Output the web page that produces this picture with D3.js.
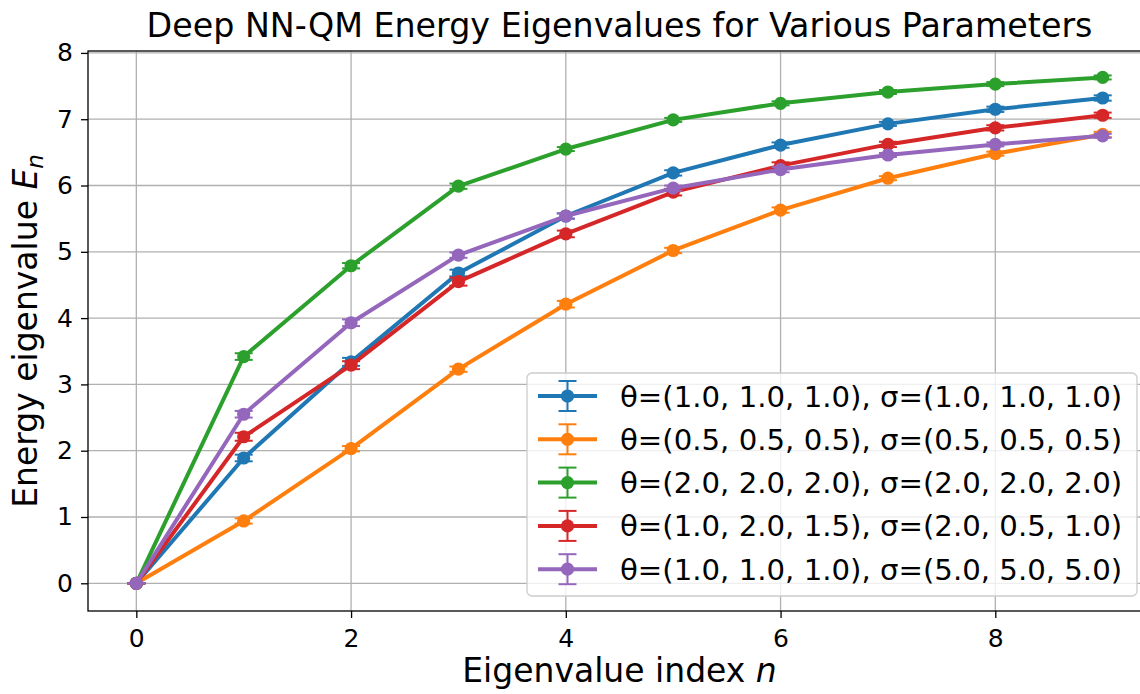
<!DOCTYPE html>
<html>
<head>
<meta charset="utf-8">
<script src="https://cdn.jsdelivr.net/npm/d3@7"></script>
<style>
  html, body { margin: 0; padding: 0; background: #fff; }
  svg { display: block; font-family: "DejaVu Sans", sans-serif; }
</style>
</head>
<body>
<svg id="chart" width="1140" height="694"></svg>
<script>
// ---------------- data ----------------
const indices = [0, 1, 2, 3, 4, 5, 6, 7, 8, 9];
const seriesLabels = [
  "θ=(1.0, 1.0, 1.0), σ=(1.0, 1.0, 1.0)",
  "θ=(0.5, 0.5, 0.5), σ=(0.5, 0.5, 0.5)",
  "θ=(2.0, 2.0, 2.0), σ=(2.0, 2.0, 2.0)",
  "θ=(1.0, 2.0, 1.5), σ=(2.0, 0.5, 1.0)",
  "θ=(1.0, 1.0, 1.0), σ=(5.0, 5.0, 5.0)"
];
const energiesA = [0, 1.89, 3.34, 4.68, 5.54, 6.19, 6.61, 6.93, 7.15, 7.32];
const energiesB = [0, 0.94, 2.03, 3.23, 4.21, 5.02, 5.63, 6.11, 6.48, 6.77];
const energiesC = [0, 3.42, 4.79, 5.99, 6.55, 6.99, 7.24, 7.41, 7.53, 7.63];
const energiesD = [0, 2.21, 3.29, 4.55, 5.27, 5.90, 6.30, 6.62, 6.87, 7.06];
const energiesE = [0, 2.55, 3.93, 4.95, 5.54, 5.96, 6.24, 6.46, 6.62, 6.75];
const errorsA = [0, 0.05, 0.06, 0.05, 0.04, 0.04, 0.04, 0.03, 0.04, 0.04];
const errorsB = [0, 0.04, 0.04, 0.04, 0.05, 0.04, 0.04, 0.03, 0.03, 0.04];
const errorsC = [0, 0.05, 0.04, 0.04, 0.03, 0.03, 0.03, 0.03, 0.03, 0.03];
const errorsD = [0, 0.06, 0.06, 0.06, 0.05, 0.05, 0.05, 0.04, 0.04, 0.04];
const errorsE = [0, 0.05, 0.05, 0.04, 0.04, 0.04, 0.04, 0.03, 0.03, 0.03];
const colors = ["#1f77b4", "#ff7f0e", "#2ca02c", "#d62728", "#9467bd"];
const xTicks = [0, 2, 4, 6, 8];
const yTicks = [0, 1, 2, 3, 4, 5, 6, 7, 8];
const titleText = "Deep NN-QM Energy Eigenvalues for Various Parameters";

const seriesValues = [energiesA, energiesB, energiesC, energiesD, energiesE];
const seriesErrors = [errorsA, errorsB, errorsC, errorsD, errorsE];
const series = seriesLabels.map((label, i) => ({
  label, color: colors[i],
  points: indices.map((n, j) => ({ n, e: seriesValues[i][j], err: seriesErrors[i][j] }))
}));

// ---------------- layout ----------------
(function draw() {
const svg = d3.select("#chart");
const pL = 88, pR = 1151, pT = 51, pB = 611;
const x = d3.scaleLinear().domain([-0.45, 9.45]).range([pL, pR]);
const y = d3.scaleLinear().domain([-0.418, 8.029]).range([pB, pT]);

// grid
const grid = svg.append("g");
grid.selectAll("line.gx").data(xTicks).join("line").attr("class", "gx")
  .attr("x1", d => x(d)).attr("x2", d => x(d)).attr("y1", pT).attr("y2", pB)
  .attr("stroke", "#b0b0b0").attr("stroke-width", 1.3);
grid.selectAll("line.gy").data(yTicks).join("line").attr("class", "gy")
  .attr("y1", d => y(d)).attr("y2", d => y(d)).attr("x1", pL).attr("x2", pR)
  .attr("stroke", "#b0b0b0").attr("stroke-width", 1.3);

// axes
const xAxis = d3.axisBottom(x).tickValues(xTicks).tickSize(7).tickPadding(11).tickFormat(d3.format("d"));
const yAxis = d3.axisLeft(y).tickValues(yTicks).tickSize(7).tickPadding(8).tickFormat(d3.format("d"));
const gx = svg.append("g").attr("transform", `translate(0,${pB})`).call(xAxis);
const gy = svg.append("g").attr("transform", `translate(${pL},0)`).call(yAxis);
[gx, gy].forEach(g => {
  g.select(".domain").remove();
  g.selectAll(".tick line").attr("stroke", "#000").attr("stroke-width", 1.3);
  g.selectAll(".tick text").attr("fill", "#000").style("font-size", "25px")
    .style("font-family", "DejaVu Sans, sans-serif");
});

// spines
svg.append("rect").attr("x", pL).attr("y", pT).attr("width", pR - pL).attr("height", pB - pT)
  .attr("fill", "none").attr("stroke", "#000").attr("stroke-width", 1.3);

// series
const line = d3.line().x(d => x(d.n)).y(d => y(d.e));
const capW = 9;
series.forEach(s => {
  const g = svg.append("g");
  g.append("path").datum(s.points).attr("d", line)
    .attr("fill", "none").attr("stroke", s.color).attr("stroke-width", 4)
    .attr("stroke-linejoin", "round");
  const eb = g.selectAll("g.eb").data(s.points).join("g").attr("class", "eb");
  eb.append("line").attr("x1", d => x(d.n)).attr("x2", d => x(d.n))
    .attr("y1", d => y(d.e - d.err)).attr("y2", d => y(d.e + d.err))
    .attr("stroke", s.color).attr("stroke-width", 2);
  [-1, 1].forEach(sg => {
    eb.append("line").attr("x1", d => x(d.n) - capW).attr("x2", d => x(d.n) + capW)
      .attr("y1", d => y(d.e + sg * d.err)).attr("y2", d => y(d.e + sg * d.err))
      .attr("stroke", s.color).attr("stroke-width", 2);
  });
  g.selectAll("circle").data(s.points).join("circle")
    .attr("cx", d => x(d.n)).attr("cy", d => y(d.e)).attr("r", 6.6)
    .attr("fill", s.color);
});

// title & labels
svg.append("text").attr("x", (pL + pR) / 2).attr("y", 37)
  .attr("text-anchor", "middle").style("font-size", "33.3px").text(titleText);
const xl = svg.append("text").attr("x", (pL + pR) / 2).attr("y", 682)
  .attr("text-anchor", "middle").style("font-size", "33px");
xl.append("tspan").text("Eigenvalue index ");
xl.append("tspan").style("font-style", "italic").text("n");
const yl = svg.append("text").attr("transform", `translate(37,${(pT + pB) / 2}) rotate(-90)`)
  .attr("text-anchor", "middle").style("font-size", "33px");
yl.append("tspan").text("Energy eigenvalue ");
yl.append("tspan").style("font-style", "italic").text("E");
yl.append("tspan").style("font-style", "italic").style("font-size", "23px").attr("dy", 6).text("n");

// legend
const lg = svg.append("g");
lg.append("rect").attr("x", 527).attr("y", 373).attr("width", 610).attr("height", 223)
  .attr("rx", 5).attr("fill", "#fff").attr("fill-opacity", 0.8)
  .attr("stroke", "#cccccc").attr("stroke-width", 1.3);
const rowY0 = 396, rowStep = 43.3;
series.forEach((s, i) => {
  const cy = rowY0 + i * rowStep;
  const r = lg.append("g");
  r.append("line").attr("x1", 538).attr("x2", 597).attr("y1", cy).attr("y2", cy)
    .attr("stroke", s.color).attr("stroke-width", 4);
  r.append("line").attr("x1", 567.5).attr("x2", 567.5).attr("y1", cy - 15).attr("y2", cy + 15)
    .attr("stroke", s.color).attr("stroke-width", 2);
  [-15, 15].forEach(o => r.append("line").attr("x1", 567.5 - capW).attr("x2", 567.5 + capW)
    .attr("y1", cy + o).attr("y2", cy + o).attr("stroke", s.color).attr("stroke-width", 2));
  r.append("circle").attr("cx", 567.5).attr("cy", cy).attr("r", 6.6).attr("fill", s.color);
  r.append("text").attr("x", 620).attr("y", cy + 10.5).style("font-size", "29.2px").text(s.label);
});
})();
</script>
</body>
</html>
